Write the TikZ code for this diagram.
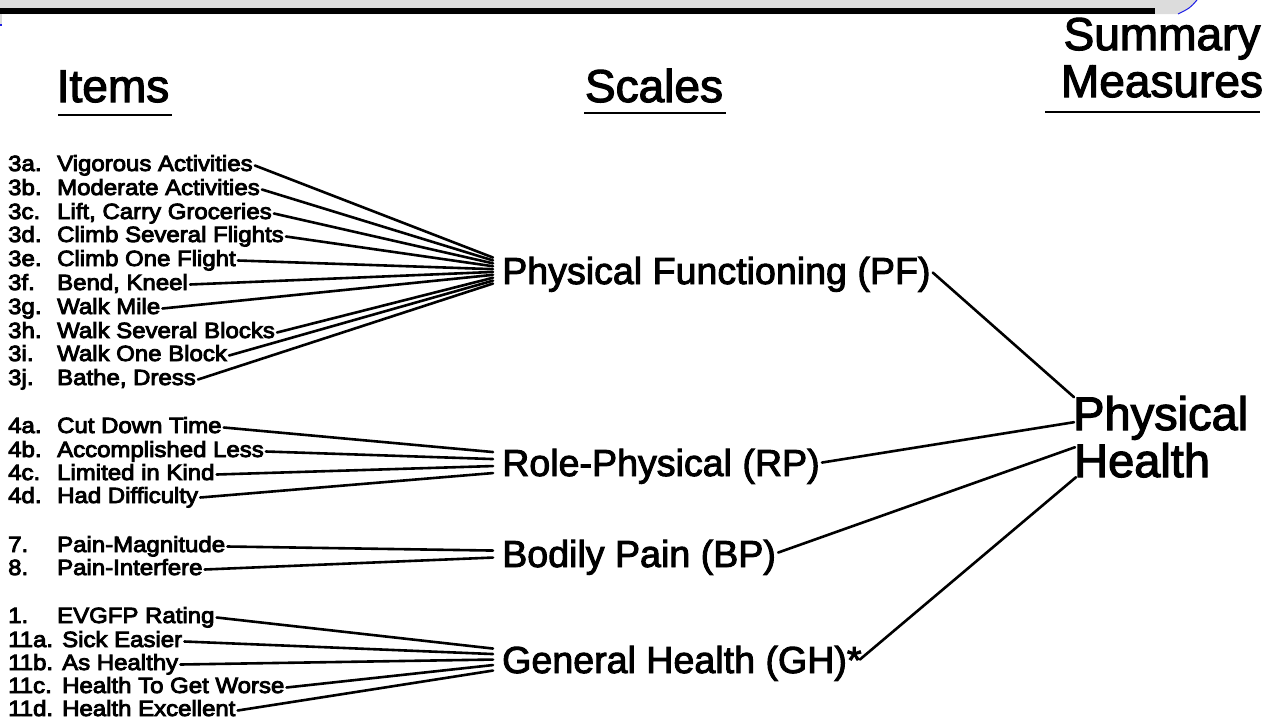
\documentclass[tikz,border=0pt]{standalone}
\usepackage{fontspec}
\setmainfont{Liberation Sans}[FakeBold=2.5]
\newfontfamily\itemfont{Liberation Sans}[FakeStretch=1.09,FakeBold=4]
\usetikzlibrary{calc}
\definecolor{bandgray}{RGB}{220,220,220}
\definecolor{bandblue}{RGB}{30,30,230}
\begin{document}
\begin{tikzpicture}[x=1pt,y=-1pt,
  head/.style={font=\fontsize{46}{50}\selectfont, inner sep=0pt, anchor=base},
  num/.style={font=\itemfont\fontsize{22}{22}\selectfont, inner sep=0pt, anchor=base west},
  itm/.style={font=\itemfont\fontsize{22}{22}\selectfont, inner xsep=2pt, inner ysep=0pt, text height=11pt, text depth=0pt, anchor=base west},
  scl/.style={font=\fontsize{37.6}{40}\selectfont, inner sep=0pt, text height=26.9pt, text depth=0pt, anchor=base west},
  meas/.style={font=\fontsize{47}{50}\selectfont, inner sep=0pt, text height=33.6pt, text depth=0pt, anchor=base west},
  conn/.style={line width=2.6pt, line cap=round},
  uline/.style={line width=2.8pt}]
\useasboundingbox (0,0) rectangle (1277,720);
% top band
\fill[bandgray] (0,0) -- (1197,0) .. controls (1190,8) .. (1178,14) -- (0,14) -- cycle;
\fill[black] (0,8) rectangle (1155,13.5);
\draw[bandblue, line width=1pt] (1197,0) .. controls (1190,8) .. (1178,14);
\fill[bandgray] (0,14) rectangle (1.5,24);
\fill[bandblue] (0,24) rectangle (1.5,26);

% headings
\node[head] (hitems) at (113,102) {Items};
\draw[uline] (58,115) -- (172,115);
\node[head] (hscales) at (654,102) {Scales};
\draw[uline] (584,113) -- (726,113);
\node[head] (hsum1) at (1162,50) {Summary};
\node[head] (hsum2) at (1162,97) {Measures};
\draw[uline] (1045,112) -- (1260,112);

% scales
\node[scl] (pf) at (502,284) {Physical Functioning (PF)};
\node[scl] (rp) at (502,476) {Role-Physical (RP)};
\node[scl] (bp) at (502,567) {Bodily Pain (BP)};
\node[scl] (gh) at (502,673) {General Health (GH)*};

% summary measure
\node[meas] (phA) at (1073,430) {Physical};
\node[meas] (phB) at (1074,477) {Health};

% PF items
\node[num] (n3a) at (8,171) {3a.}; \node[itm] (i3a) at (55,171) {Vigorous Activities};
\node[num] (n3b) at (8,195) {3b.}; \node[itm] (i3b) at (55,195) {Moderate Activities};
\node[num] (n3c) at (8,219) {3c.}; \node[itm] (i3c) at (55,219) {Lift, Carry Groceries};
\node[num] (n3d) at (8,242) {3d.}; \node[itm] (i3d) at (55,242) {Climb Several Flights};
\node[num] (n3e) at (8,266) {3e.}; \node[itm] (i3e) at (55,266) {Climb One Flight};
\node[num] (n3f) at (8,290) {3f.}; \node[itm] (i3f) at (55,290) {Bend, Kneel};
\node[num] (n3g) at (8,314) {3g.}; \node[itm] (i3g) at (55,314) {Walk Mile};
\node[num] (n3h) at (8,338) {3h.}; \node[itm] (i3h) at (55,338) {Walk Several Blocks};
\node[num] (n3i) at (8,361) {3i.}; \node[itm] (i3i) at (55,361) {Walk One Block};
\node[num] (n3j) at (8,385) {3j.}; \node[itm] (i3j) at (55,385) {Bathe, Dress};

% RP items
\node[num] (n4a) at (8,433) {4a.}; \node[itm] (i4a) at (55,433) {Cut Down Time};
\node[num] (n4b) at (8,457) {4b.}; \node[itm] (i4b) at (55,457) {Accomplished Less};
\node[num] (n4c) at (8,480) {4c.}; \node[itm] (i4c) at (55,480) {Limited in Kind};
\node[num] (n4d) at (8,503) {4d.}; \node[itm] (i4d) at (55,503) {Had Difficulty};

% BP items
\node[num] (n7) at (8,552) {7.}; \node[itm] (i7) at (55,552) {Pain-Magnitude};
\node[num] (n8) at (8,575) {8.}; \node[itm] (i8) at (55,575) {Pain-Interfere};

% GH items
\node[num] (n1) at (8,623) {1.}; \node[itm] (i1) at (55,623) {EVGFP Rating};
\node[num] (n11a) at (8,647) {11a.}; \node[itm] (i11a) at (60,647) {Sick Easier};
\node[num] (n11b) at (8,670) {11b.}; \node[itm] (i11b) at (60,670) {As Healthy};
\node[num] (n11c) at (8,693) {11c.}; \node[itm] (i11c) at (60,693) {Health To Get Worse};
\node[num] (n11d) at (8,716) {11d.}; \node[itm] (i11d) at (60,716) {Health Excellent};

% connectors items -> PF
\draw[conn] (i3a.east) -- ($(pf.west)+(-9,-13)$);
\draw[conn] (i3b.east) -- ($(pf.west)+(-9,-10.1)$);
\draw[conn] (i3c.east) -- ($(pf.west)+(-9,-7.2)$);
\draw[conn] (i3d.east) -- ($(pf.west)+(-9,-4.3)$);
\draw[conn] (i3e.east) -- ($(pf.west)+(-9,-1.4)$);
\draw[conn] (i3f.east) -- ($(pf.west)+(-9,1.4)$);
\draw[conn] (i3g.east) -- ($(pf.west)+(-9,4.3)$);
\draw[conn] (i3h.east) -- ($(pf.west)+(-9,7.2)$);
\draw[conn] (i3i.east) -- ($(pf.west)+(-9,10.1)$);
\draw[conn] (i3j.east) -- ($(pf.west)+(-9,13)$);
% items -> RP
\draw[conn] (i4a.east) -- ($(rp.west)+(-9,-10.5)$);
\draw[conn] (i4b.east) -- ($(rp.west)+(-9,-3.5)$);
\draw[conn] (i4c.east) -- ($(rp.west)+(-9,3.5)$);
\draw[conn] (i4d.east) -- ($(rp.west)+(-9,10.5)$);
% items -> BP
\draw[conn] (i7.east) -- ($(bp.west)+(-9,-3)$);
\draw[conn] (i8.east) -- ($(bp.west)+(-9,4)$);
% items -> GH
\draw[conn] (i1.east) -- ($(gh.west)+(-9,-11)$);
\draw[conn] (i11a.east) -- ($(gh.west)+(-9,-5.5)$);
\draw[conn] (i11b.east) -- ($(gh.west)+(-9,0)$);
\draw[conn] (i11c.east) -- ($(gh.west)+(-9,5.5)$);
\draw[conn] (i11d.east) -- ($(gh.west)+(-9,11)$);

% scales -> Physical Health
\draw[conn] ($(pf.east)+(2,2)$) -- ($(phA.west)+(1,-16)$);
\draw[conn] ($(rp.east)+(2,0)$) -- ($(phA.west)+(1,9)$);
\draw[conn] ($(bp.east)+(2,-1)$) -- ($(phB.west)+(1,-13)$);
\draw[conn] ($(gh.east)+(-2,0)$) -- ($(phB.west)+(2,17)$);
\end{tikzpicture}
\end{document}
